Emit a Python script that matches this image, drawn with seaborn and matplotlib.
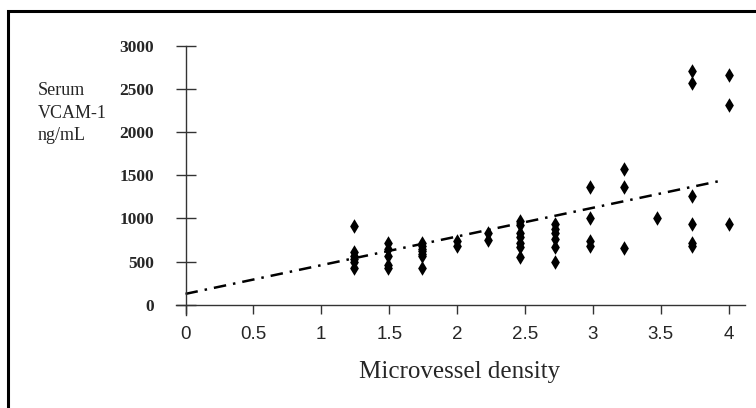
import matplotlib
matplotlib.use("Agg")
import seaborn as sns
import pandas as pd
from matplotlib import pyplot as plt
from matplotlib import patches

# microvessel density score / serum VCAM-1 (ng/mL)
density = ([1.24] * 6 + [1.49] * 5 + [1.74] * 7 + [2.0] * 2 + [2.23] * 2 +
           [2.46] * 7 + [2.72] * 6 + [2.98] * 4 + [3.23] * 3 + [3.47] * 1 +
           [3.73] * 6 + [4.0] * 3)
vcam = [910, 610, 570, 530, 500, 430,
        720, 650, 570, 460, 430,
        710, 680, 650, 620, 590, 560, 430,
        740, 680,
        830, 750,
        970, 920, 830, 780, 720, 670, 550,
        940, 880, 830, 760, 670, 490,
        1360, 1000, 740, 680,
        1570, 1370, 660,
        1000,
        2710, 2570, 1260, 930, 720, 680,
        2660, 2310, 940]

# regression line as drawn
line_x = [0, 3.93]
line_y = [125, 1433]

yticks = [0, 500, 1000, 1500, 2000, 2500, 3000]
xticks = [0, 0.5, 1, 1.5, 2, 2.5, 3, 3.5, 4]
xtick_labels = ["0", "0.5", "1", "1.5", "2", "2.5", "3", "3.5", "4"]

df = pd.DataFrame({"density": density, "vcam": vcam})

sns.set_style("white")
plt.rcParams['font.family'] = ['Liberation Serif', 'DejaVu Serif']

fig = plt.figure(figsize=(7.56, 4.08), dpi=100)
ax = fig.add_axes([176 / 756, 1 - 315 / 408, (745 - 176) / 756, (315 - 46) / 408])

sns.scatterplot(data=df, x="density", y="vcam", marker="d", s=55, color="black",
                edgecolor="black", linewidth=0, ax=ax)
sns.lineplot(x=line_x, y=line_y, color="black", linewidth=1.8,
             linestyle=(0, (5, 2.8, 1, 2.8)), ax=ax)

ax.set_xlim(-0.07, 4.12)
ax.set_ylim(-120, 3000)
ax.spines['left'].set_position(('data', 0))
ax.spines['bottom'].set_position(('data', 0))
ax.spines['top'].set_visible(False)
ax.spines['right'].set_visible(False)
for sp in ['left', 'bottom']:
    ax.spines[sp].set_color('#333333')
    ax.spines[sp].set_linewidth(1.0)

ax.set_yticks(yticks)
ax.set_yticklabels([str(v) for v in yticks], fontweight='bold', fontsize=12.5,
                   family=['Liberation Serif'])
ax.set_xticks(xticks)
ax.set_xticklabels(xtick_labels, fontsize=13.5, family=['Liberation Sans'])
ax.tick_params(axis='y', direction='inout', length=13.7, width=1.0, pad=16,
               color='#333333', left=True)
ax.tick_params(axis='x', direction='out', length=6.5, width=1.0, pad=9,
               color='#333333', bottom=True)
ax.set_xlabel("")
ax.set_ylabel("")
ax.patch.set_alpha(0)

fig.text(460 / 756, 1 - 372 / 408, "Microvessel density", fontsize=18,
         ha='center', va='center')
fig.text(38 / 756, 1 - 113 / 408, "Serum\nVCAM-1\nng/mL", fontsize=13,
         ha='left', va='center', linespacing=1.45)

# scanned frame, cut off at right and bottom
fig.patches.append(patches.Rectangle((8 / 756, -0.2), 1.2, (1 - 11 / 408) + 0.2,
                                     transform=fig.transFigure, fill=False,
                                     edgecolor='black', linewidth=2.2, clip_on=False))

fig.savefig("out.png", dpi=100)
